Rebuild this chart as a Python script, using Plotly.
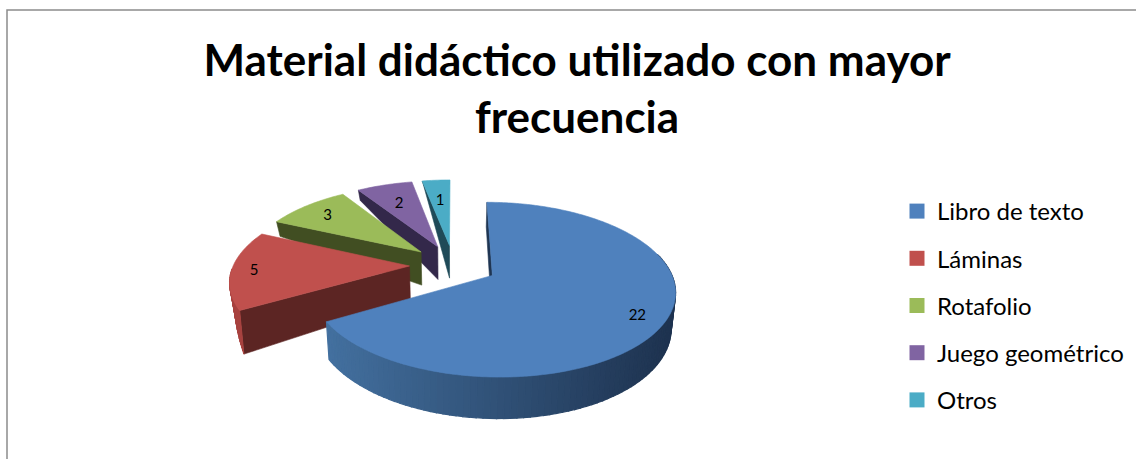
import numpy as np
import plotly.graph_objects as go

categories = ["Libro de texto", "Láminas", "Rotafolio", "Juego geométrico", "Otros"]
values = [22, 5, 3, 2, 1]
top_colors = ["#4F81BD", "#C0504D", "#9BBB59", "#8064A2", "#4BACC6"]
cut_colors = ["#1F3552", "#5C2523", "#414E22", "#33284A", "#1F4A58"]
title_text = "Material didáctico utilizado con mayor<br>frecuencia"

# projection / style settings
W, H = 1136, 459
CX, CY, RX, RY, PERSP = 453.5, 265, 176, 81.7, 0.16
EXPLODE, DEPTH, SHRINK = 0.25, 34, 0.98
corner_depth = [28, 40, 16, 12, 2]
label_frac = [0.85, 0.875, 0.8, 0.7, 0.67]
LABEL_DY = 2
FONT = "Lato"


def proj(gx, gy, depth=0.0):
    gx, gy = np.asarray(gx, float), np.asarray(gy, float)
    w = 1 / (1 + PERSP * gy)
    s = SHRINK if np.any(np.asarray(depth) > 0) else 1.0
    return CX + RX * gx * w * s, CY - RY * gy * w + np.asarray(depth) * w


def poly(fig, x, y, color, lw=0.6):
    fig.add_trace(go.Scatter(x=list(x), y=list(y), mode="lines", fill="toself", fillcolor=color,
                             line=dict(color=color, width=lw, simplify=False), showlegend=False,
                             hoverinfo="skip"))


def mix(a, b, t):
    ca = [int(a[i:i + 2], 16) for i in (1, 3, 5)]
    cb = [int(b[i:i + 2], 16) for i in (1, 3, 5)]
    return "rgb(%d,%d,%d)" % tuple(round(p + (q - p) * t) for p, q in zip(ca, cb))


fig = go.Figure()
total = sum(values)
edges = np.cumsum([0] + values) / total * 2 * np.pi
labels = []
order = [4, 3, 2, 1, 0]
for i in order:
    a0, a1 = edges[i], edges[i + 1]
    mid = (a0 + a1) / 2
    ox, oy = EXPLODE * np.sin(mid), EXPLODE * np.cos(mid)
    th = np.linspace(a0, a1, max(8, int(np.degrees(a1 - a0))))
    gx, gy = ox + np.sin(th), oy + np.cos(th)

    # cut wall along the slice's leading edge
    ex, ey = ox + np.sin(a0), oy + np.cos(a0)
    xs, ys = proj([ox, ex], [oy, ey])
    xb, yb = proj([ex, ox], [ey, oy], np.array([corner_depth[i], DEPTH]))
    poly(fig, [xs[0], xs[1], xb[0], xb[1], xs[0]], [ys[0], ys[1], yb[0], yb[1], ys[0]], cut_colors[i])

    # rim
    if i == 0:
        seg = np.linspace(np.radians(75), a1, 90)
        for k in range(len(seg) - 1):
            s = seg[k:k + 2]
            sx, sy = ox + np.sin(s), oy + np.cos(s)
            tx, ty = proj(sx, sy)
            bx, by = proj(sx, sy, np.full(2, DEPTH))
            t = min(max((bx[0] - 330) / (665 - 330), 0), 1)
            c = mix("#43709F", "#1E3350", t)
            poly(fig, [tx[0], tx[1], bx[1], bx[0], tx[0]], [ty[0], ty[1], by[1], by[0], ty[0]], c, 1.2)
    elif i == 1:
        seg = np.linspace(a0, np.radians(268), 30)
        for k in range(len(seg) - 1):
            s = seg[k:k + 2]
            sx, sy = ox + np.sin(s), oy + np.cos(s)
            d = corner_depth[i] * (np.radians(268) - s) / (np.radians(268) - a0)
            tx, ty = proj(sx, sy)
            bx, by = proj(sx, sy, d)
            poly(fig, [tx[0], tx[1], bx[1], bx[0], tx[0]], [ty[0], ty[1], by[1], by[0], ty[0]], "#A8423F", 1.0)

    # top face
    fx, fy = proj(np.r_[ox, gx, ox], np.r_[oy, gy, oy])
    poly(fig, fx, fy, top_colors[i])

    lx, ly = proj(ox + label_frac[i] * np.sin(mid), oy + label_frac[i] * np.cos(mid))
    labels.append((float(lx), float(ly) + LABEL_DY, str(values[i])))

fig.add_trace(go.Scatter(x=[p[0] for p in labels], y=[p[1] for p in labels], text=[p[2] for p in labels],
                         mode="text", textposition="middle center", showlegend=False, hoverinfo="skip",
                         textfont=dict(family=FONT, size=15, color="#000000")))

for name, color in zip(categories, top_colors):
    fig.add_trace(go.Scatter(x=[None], y=[None], mode="markers", name=name, legendgroup=name,
                             marker=dict(symbol="square", size=15, color=color)))

fig.update_layout(
    width=W, height=H, autosize=False, margin=dict(l=0, r=0, t=0, b=0),
    paper_bgcolor="#FFFFFF", plot_bgcolor="#FFFFFF",
    title=dict(text=title_text, x=0.508, xanchor="center", y=0.834, yanchor="middle",
               font=dict(family=FONT, size=44, color="#000000", weight="bold")),
    xaxis=dict(range=[0, W], visible=False, fixedrange=True),
    yaxis=dict(range=[H, 0], visible=False, fixedrange=True),
    legend=dict(x=897 / W, xanchor="left", y=1 - 189 / H, yanchor="top", tracegroupgap=13,
                bgcolor="rgba(0,0,0,0)", font=dict(family=FONT, size=24, color="#000000"),
                itemclick=False, itemdoubleclick=False),
    shapes=[dict(type="rect", x0=7, y0=10, x1=1140, y1=480, line=dict(color="#8C8C8C", width=1.5))],
)
fig.write_html("out.html", config={"displayModeBar": False},
               post_script="document.body.style.margin='0';")
